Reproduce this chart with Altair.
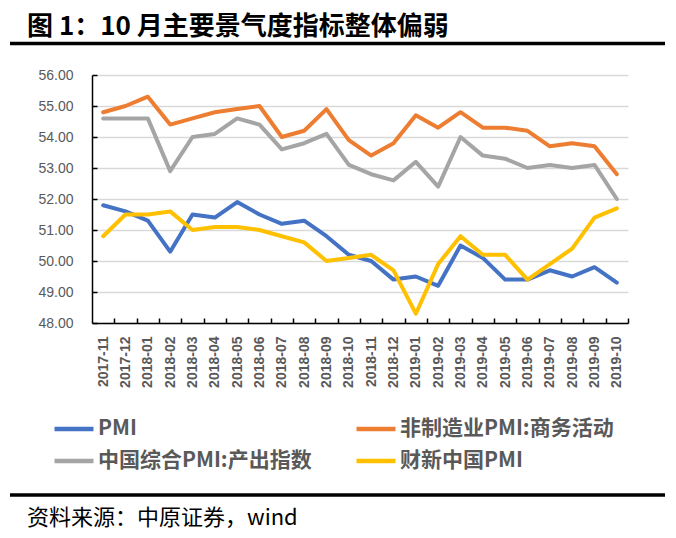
import altair as alt
import pandas as pd

months = ["2017-11", "2017-12", "2018-01", "2018-02", "2018-03", "2018-04",
          "2018-05", "2018-06", "2018-07", "2018-08", "2018-09", "2018-10",
          "2018-11", "2018-12", "2019-01", "2019-02", "2019-03", "2019-04",
          "2019-05", "2019-06", "2019-07", "2019-08", "2019-09", "2019-10"]

pmi = [51.8, 51.6, 51.3, 50.3, 51.5, 51.4, 51.9, 51.5, 51.2, 51.3, 50.8, 50.2,
       50.0, 49.4, 49.5, 49.2, 50.5, 50.1, 49.4, 49.4, 49.7, 49.5, 49.8, 49.3]
non_mfg = [54.8, 55.0, 55.3, 54.4, 54.6, 54.8, 54.9, 55.0, 54.0, 54.2, 54.9, 53.9,
           53.4, 53.8, 54.7, 54.3, 54.8, 54.3, 54.3, 54.2, 53.7, 53.8, 53.7, 52.8]
composite = [54.6, 54.6, 54.6, 52.9, 54.0, 54.1, 54.6, 54.4, 53.6, 53.8, 54.1, 53.1,
             52.8, 52.6, 53.2, 52.4, 54.0, 53.4, 53.3, 53.0, 53.1, 53.0, 53.1, 52.0]
caixin = [50.8, 51.5, 51.5, 51.6, 51.0, 51.1, 51.1, 51.0, 50.8, 50.6, 50.0, 50.1,
          50.2, 49.7, 48.3, 49.9, 50.8, 50.2, 50.2, 49.4, 49.9, 50.4, 51.4, 51.7]

series_names = ["PMI", "非制造业PMI:商务活动", "中国综合PMI:产出指数", "财新中国PMI"]
series_colors = ["#4472C4", "#ED7D31", "#A5A5A5", "#FFC000"]
# legend is laid out column by column: column 1 = PMI, 综合; column 2 = 非制造业, 财新
legend_order = [0, 2, 1, 3]
y_ticks = [48, 49, 50, 51, 52, 53, 54, 55, 56]

title_text = "图 1：10 月主要景气度指标整体偏弱"
source_text = "资料来源：中原证券，wind"

rows = []
for name, vals in zip(series_names, [pmi, non_mfg, composite, caixin]):
    for m, v in zip(months, vals):
        rows.append({"month": m, "series": name, "value": v})
df = pd.DataFrame(rows)

W, H = 536, 248
step = W / len(months)

xscale = alt.Scale(type="point", padding=0.5, domain=months)
yscale = alt.Scale(domain=[48, 56], nice=False, zero=False)

legend_domain = [series_names[i] for i in legend_order]
legend_range = [series_colors[i] for i in legend_order]

lines = alt.Chart(df).mark_line(strokeWidth=4, strokeJoin="round", strokeCap="round").encode(
    x=alt.X("month:N", sort=months, scale=xscale,
            axis=alt.Axis(title=None, orient="bottom", labelAngle=270, ticks=False,
                          domain=True, domainColor="#000000", domainWidth=1.5,
                          labelPadding=13, labelFontSize=14, labelFont="Liberation Sans",
                          labelFontWeight="bold", labelColor="#595959", grid=False,
                          labelBaseline="middle", labelAlign="right")),
    y=alt.Y("value:Q", scale=yscale,
            axis=alt.Axis(title=None, orient="left", values=y_ticks, format=".2f",
                          ticks=False, domain=True, domainColor="#000000", domainWidth=1.5,
                          grid=True, gridColor="#D9D9D9", gridWidth=1.5,
                          labelPadding=19, labelFontSize=14, labelFont="Liberation Sans",
                          labelColor="#595959")),
    color=alt.Color("series:N", sort=legend_domain,
                    scale=alt.Scale(domain=legend_domain, range=legend_range),
                    legend=alt.Legend(title=None, orient="none", legendX=-40, legendY=332,
                                      columns=2, columnPadding=35, rowPadding=-9,
                                      symbolType="stroke", symbolSize=1521,
                                      symbolStrokeWidth=4.5, labelOffset=2,
                                      labelFont="Noto Sans CJK SC", labelFontSize=21,
                                      labelFontWeight="bold", labelColor="#595959",
                                      labelLimit=400)),
)

tick_axes = alt.Chart(df).mark_line(strokeOpacity=0).encode(
    x=alt.X("month:N", sort=months, scale=xscale,
            axis=alt.Axis(title=None, orient="top", offset=-H, labels=False, domain=False,
                          ticks=True, tickSize=5, tickColor="#000000", tickWidth=1.5,
                          tickOffset=step / 2, grid=False)),
    y=alt.Y("value:Q", scale=yscale,
            axis=alt.Axis(title=None, orient="right", offset=-W, labels=False, domain=False,
                          ticks=True, tickSize=5, tickColor="#000000", tickWidth=1.5,
                          values=y_ticks, grid=False)),
    detail="series:N",
)

one = pd.DataFrame({"k": [0]})

title = alt.Chart(one).mark_text(align="left", baseline="middle", fontSize=26,
                                 fontWeight="bold", font="Noto Sans CJK SC",
                                 color="#000000").encode(
    x=alt.value(-65), y=alt.value(-48), text=alt.value(title_text))

top_rule = alt.Chart(one).mark_rule(color="#000000", strokeWidth=3.5).encode(
    x=alt.value(-82), x2=alt.value(573), y=alt.value(-31.5))

bottom_rule = alt.Chart(one).mark_rule(color="#000000", strokeWidth=3.5).encode(
    x=alt.value(-82), x2=alt.value(573), y=alt.value(420))

source = alt.Chart(one).mark_text(align="left", baseline="middle", fontSize=22,
                                  font="Noto Sans CJK SC", color="#000000").encode(
    x=alt.value(-65), y=alt.value(443), text=alt.value(source_text))

chart = alt.layer(lines, tick_axes, title, top_rule, bottom_rule, source).resolve_axis(
    x="independent", y="independent"
).properties(
    width=W, height=H,
    autosize=alt.AutoSizeParams(type="none"),
    padding={"left": 84, "top": 67, "right": 40, "bottom": 207},
    background="#FFFFFF",
).configure_view(stroke=None)

chart.save("out.html", embed_options={"renderer": "svg", "actions": False})
